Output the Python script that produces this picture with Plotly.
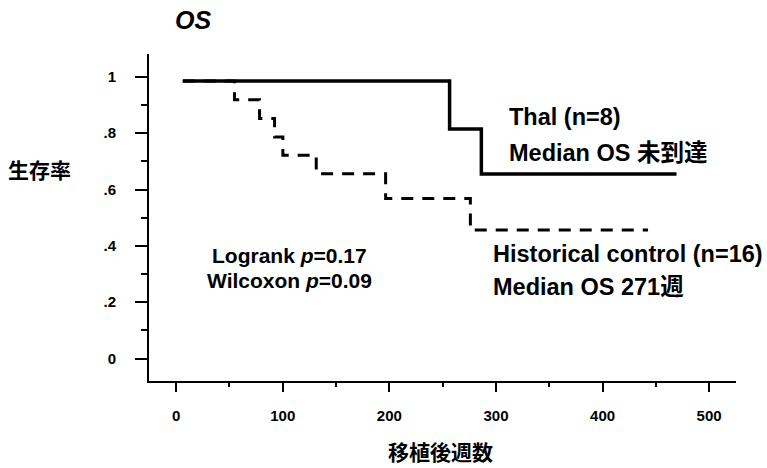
import plotly.graph_objects as go

# Kaplan-Meier step data (weeks after transplant, survival proportion)
thal_weeks = [6.2, 256.5, 286.3, 469.4]
thal_surv = [0.985, 0.815, 0.655, 0.655]

ctrl_weeks = [6.2, 54.7, 78.2, 92.3, 100.1, 131.4, 196.5, 276.0, 442.7]
ctrl_surv = [0.985, 0.919, 0.852, 0.786, 0.722, 0.656, 0.568, 0.456, 0.456]

x_ticks = [0, 100, 200, 300, 400, 500]
y_ticks = [0, 0.2, 0.4, 0.6, 0.8, 1.0]
y_ticktext = ["0", ".2", ".4", ".6", ".8", "1"]

FONT = "Liberation Sans, Arial, Noto Sans CJK JP, sans-serif"

fig = go.Figure()

fig.add_trace(go.Scatter(
    x=ctrl_weeks, y=ctrl_surv, mode="lines", line_shape="hv",
    line=dict(color="black", width=3, dash="12px,9px"),
    showlegend=False, hoverinfo="skip",
))
fig.add_trace(go.Scatter(
    x=thal_weeks, y=thal_surv, mode="lines", line_shape="hv",
    line=dict(color="black", width=3.5),
    showlegend=False, hoverinfo="skip",
))

annos = [
    dict(text="<b><i>OS</i></b>", xref="paper", yref="paper", x=0.075, y=1.104,
         xanchor="center", yanchor="middle", font=dict(size=25)),
    dict(text="<b>生存率</b>", xref="paper", yref="paper", x=-0.1865, y=0.645,
         xanchor="center", yanchor="middle", font=dict(size=21)),
    dict(text="<b>移植後週数</b>", xref="paper", yref="paper", x=0.497, y=-0.22,
         xanchor="center", yanchor="middle", font=dict(size=21)),
    dict(text="<b>Thal (n=8)</b>", x=310, y=0.857, xanchor="left", yanchor="middle",
         font=dict(size=23.5)),
    dict(text="<b>Median OS 未到達</b>", x=310, y=0.729, xanchor="left", yanchor="middle",
         font=dict(size=23.5)),
    dict(text="<b>Historical control (n=16)</b>", x=295.7, y=0.373, xanchor="left",
         yanchor="middle", font=dict(size=23.5)),
    dict(text="<b>Median OS 271週</b>", x=295.7, y=0.254, xanchor="left",
         yanchor="middle", font=dict(size=23.5)),
    dict(text="<b>Logrank <i>p</i>=0.17</b>", x=106.4, y=0.367, xanchor="center",
         yanchor="middle", font=dict(size=21)),
    dict(text="<b>Wilcoxon <i>p</i>=0.09</b>", x=106.4, y=0.278, xanchor="center",
         yanchor="middle", font=dict(size=21)),
]
for a in annos:
    a.update(showarrow=False)
    a["font"].update(family=FONT, color="black")

fig.update_layout(
    width=767, height=468,
    margin=dict(l=149, r=31, t=54, b=87),
    paper_bgcolor="white", plot_bgcolor="white",
    font=dict(family=FONT, color="black"),
    annotations=annos,
    xaxis=dict(
        range=[-25.5, 525.2], showgrid=False, zeroline=False,
        showline=True, linecolor="black", linewidth=2,
        ticks="outside", ticklen=9, tickwidth=2, tickcolor="black",
        tickmode="array", tickvals=x_ticks,
        tickfont=dict(size=15, family=FONT, weight="bold"),
        ticklabelstandoff=11,
        minor=dict(ticks="outside", ticklen=4, tickwidth=1.5, tickcolor="black",
                   dtick=50, tick0=0, showgrid=False),
    ),
    yaxis=dict(
        range=[-0.0795, 1.081], showgrid=False, zeroline=False,
        showline=True, linecolor="black", linewidth=2,
        ticks="outside", ticklen=12, tickwidth=1.5, tickcolor="black",
        tickmode="array", tickvals=y_ticks, ticktext=y_ticktext,
        tickfont=dict(size=15, family=FONT, weight="bold"),
        ticklabelstandoff=16,
        minor=dict(ticks="outside", ticklen=6, tickwidth=1.5, tickcolor="black",
                   dtick=0.1, tick0=0, showgrid=False),
    ),
)

fig.write_html("out.html")
